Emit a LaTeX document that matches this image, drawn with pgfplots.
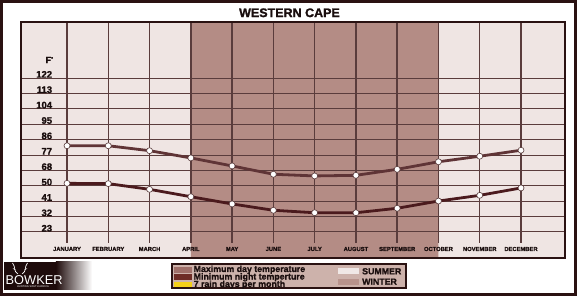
\documentclass[border=0pt]{standalone}
\usepackage{fontspec}
\setmainfont{Liberation Sans}[BoldFeatures={FakeBold=1.3}]
\usepackage{pgfplots}
\usepackage{pgfplotstable}
\pgfplotsset{compat=1.18}
\definecolor{summer}{HTML}{EFE5E3}
\definecolor{winter}{HTML}{B48C85}
\definecolor{gridc}{HTML}{5A3C3C}
\definecolor{boxc}{HTML}{2A1212}
\definecolor{maxc}{HTML}{5F3436}
\definecolor{minc}{HTML}{4B1A1D}
\definecolor{legfill}{HTML}{CDB2AB}
\definecolor{swmax}{HTML}{A0706A}
\definecolor{swmin}{HTML}{6E2C26}
\definecolor{swrain}{HTML}{F5D018}
\definecolor{swsum}{HTML}{F0E8E6}
\definecolor{swwin}{HTML}{B8938C}
\definecolor{txt}{HTML}{1A0E0E}
\definecolor{logodark}{HTML}{1E0B0B}

\pgfplotstableread{
m tmax tmin
1 5.60 3.16
2 5.60 3.14
3 5.28 2.77
4 4.81 2.29
5 4.29 1.82
6 3.75 1.41
7 3.64 1.25
8 3.68 1.25
9 4.07 1.54
10 4.56 2.01
11 4.92 2.38
12 5.31 2.86
}\temps

\begin{document}
\begin{tikzpicture}
\path[use as bounding box, fill=white] (0pt,0pt) rectangle (579pt,296pt);
\begin{axis}[
  at={(21pt,38pt)}, anchor=south west,
  scale only axis, width=544pt, height=236pt,
  xmin=-0.115, xmax=13.066, ymin=-1.69, ymax=13.64,
  axis on top,
  axis line style={draw=boxc, line width=1.6pt},
  axis background/.style={fill=summer},
  xtick={1,...,12},
  xticklabels={JANUARY,FEBRUARY,MARCH,APRIL,MAY,JUNE,JULY,AUGUST,SEPTEMBER,OCTOBER,NOVEMBER,DECEMBER},
  xticklabel style={anchor=center, yshift=9pt, inner sep=0pt, font=\fontsize{5.8}{6}\selectfont\bfseries, text=txt},
  ytick={0,...,10},
  yticklabels={23,32,41,50,68,77,86,95,104,113,122},
  yticklabel style={anchor=east, xshift=31.3pt, yshift=3.7pt, inner sep=0pt, font=\fontsize{9.5}{10}\selectfont\bfseries, text=txt},
  major tick length=0pt,
  clip=false,
]
\addplot[fill=winter, draw=none] coordinates {(4,-1.69) (10,-1.69) (10,13.64) (4,13.64) (4,-1.69)};
\pgfplotsinvokeforeach{0,...,10}{\draw[gridc, line width=1.0pt] (axis cs:-0.115,#1) -- (axis cs:13.066,#1);}
\pgfplotsinvokeforeach{1,...,12}{\draw[gridc, line width=1.4pt] (axis cs:#1,-0.71) -- (axis cs:#1,13.64);}
\addplot[maxc, line width=2.8pt, line join=round, mark=*, mark size=3pt, mark options={fill=white, draw=gridc, line width=0.6pt}] table[x=m,y=tmax]{\temps};
\addplot[minc, line width=2.8pt, line join=round, mark=*, mark size=3pt, mark options={fill=white, draw=gridc, line width=0.6pt}] table[x=m,y=tmin]{\temps};
\end{axis}
% title and unit
\node[font=\fontsize{12.5}{13}\selectfont\bfseries, text=txt] at (289.5pt,283.2pt) {WESTERN CAPE};
\node[anchor=east, inner sep=0pt, font=\fontsize{9}{9}\selectfont\bfseries, text=txt] at (53.3pt,236pt) {F\raisebox{2.5pt}{\fontsize{5}{5}\selectfont°}};
% legend
\draw[fill=legfill, draw=boxc, line width=1.8pt] (171.7pt,8pt) rectangle (406pt,32pt);
\fill[swmax] (174pt,23.3pt) rectangle (192pt,29.3pt);
\fill[swmin] (174pt,15.7pt) rectangle (192pt,21.7pt);
\fill[swrain] (174pt,8.6pt) rectangle (192pt,14.3pt);
\begin{scope}[every node/.style={anchor=west, inner sep=0pt, text=txt, font=\fontsize{8.8}{9}\selectfont\bfseries}]
\node at (193.5pt,26.3pt) {Maximum day temperature};
\node at (193.5pt,18.7pt) {Minimum night temperture};
\node at (193.5pt,11.3pt) {7 rain days per month};
\node at (362pt,24.7pt) {SUMMER};
\node at (362pt,14.3pt) {WINTER};
\end{scope}
\fill[swsum] (338pt,21.7pt) rectangle (359pt,27.7pt);
\fill[swwin] (338pt,11.3pt) rectangle (359pt,17.3pt);
% logo
\fill[logodark] (4pt,6pt) rectangle (56pt,34.3pt);
\shade[left color=logodark, right color=white] (55.9pt,6pt) rectangle (92pt,34.3pt);
\node[white, anchor=west, inner sep=0pt, font=\fontsize{12.8}{12}\selectfont] at (5.5pt,16pt) {BOWKER};
\node[white, inner sep=0pt, font=\fontsize{2.6}{3}\selectfont] at (33pt,9pt) {HUNTING SOUTH AFRICA};
\draw[white, line width=0.7pt] (18pt,22pt) .. controls (13pt,25pt) and (16pt,29pt) .. (12.5pt,33pt);
\draw[white, line width=0.7pt] (22pt,22pt) .. controls (27pt,25pt) and (24pt,29pt) .. (27.5pt,33pt);
\draw[white, line width=0.5pt] (15.5pt,26pt) -- (13pt,27.5pt);
\draw[white, line width=0.5pt] (24.5pt,26pt) -- (27pt,27.5pt);
% outer frame
\draw[boxc, line width=2.6pt] (1.3pt,1.5pt) rectangle (575.3pt,294.7pt);
\end{tikzpicture}
\end{document}
